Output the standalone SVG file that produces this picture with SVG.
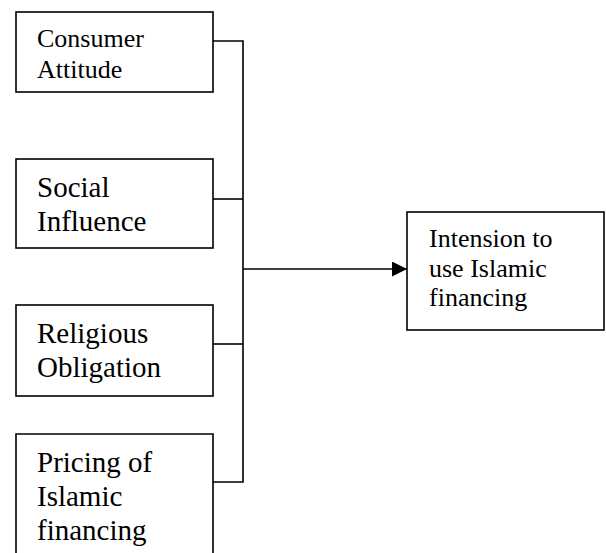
<svg xmlns="http://www.w3.org/2000/svg" width="606" height="553" viewBox="0 0 606 553">
<style>
.box{fill:#fff;stroke:#000;stroke-width:1.6}
.ln{fill:none;stroke:#000;stroke-width:1.6}
.t{font-family:"Liberation Serif","Times New Roman",serif;fill:#000}
.s{font-size:26px}
.b{font-size:29px}
</style>
<defs>
<marker id="arr" markerWidth="15" markerHeight="15" viewBox="0 0 15 15" refX="15" refY="7.5" orient="auto" markerUnits="userSpaceOnUse">
<path d="M0,0 L15,7.5 L0,15 Z" fill="#000"/>
</marker>
</defs>
<g id="connectors">
<path class="ln" d="M213,41 H243 V482 H213"/>
<path class="ln" d="M213,199 H243"/>
<path class="ln" d="M213,344 H243"/>
<path class="ln" d="M243,269 H407" marker-end="url(#arr)"/>
</g>
<g id="consumer-attitude">
<rect class="box" x="16" y="12" width="197" height="80"/>
<text class="t s" x="37" y="47">Consumer</text>
<text class="t s" x="37" y="78">Attitude</text>
</g>
<g id="social-influence">
<rect class="box" x="16" y="159" width="197" height="89"/>
<text class="t b" x="37" y="197">Social</text>
<text class="t b" x="37" y="231">Influence</text>
</g>
<g id="religious-obligation">
<rect class="box" x="16" y="305" width="197" height="91"/>
<text class="t b" x="37" y="343">Religious</text>
<text class="t b" x="37" y="377">Obligation</text>
</g>
<g id="pricing">
<path class="box" d="M16,560 V434 H213 V560"/>
<text class="t b" x="37" y="472">Pricing of</text>
<text class="t b" x="37" y="506">Islamic</text>
<text class="t b" x="37" y="540">financing</text>
</g>
<g id="intension">
<rect class="box" x="407" y="212" width="197" height="118"/>
<text class="t s" x="429" y="247">Intension to</text>
<text class="t s" x="429" y="277">use Islamic</text>
<text class="t s" x="429" y="306">financing</text>
</g>
</svg>
